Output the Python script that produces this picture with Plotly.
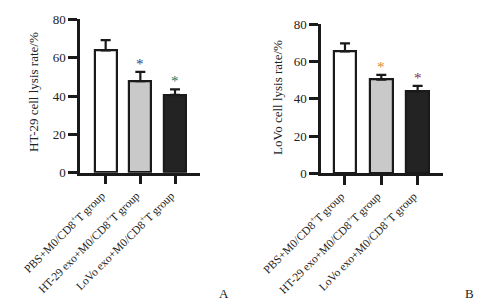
import plotly.graph_objects as go

categories = ["PBS+M0/CD8<sup>+</sup>T group", "HT-29 exo+M0/CD8<sup>+</sup>T group", "LoVo exo+M0/CD8<sup>+</sup>T group"]
ht29_values = [63.8, 47.7, 40.6]
ht29_errors = [5.3, 4.9, 2.9]
lovo_values = [65.5, 50.3, 44.0]
lovo_errors = [4.3, 2.5, 2.9]
ht29_star_colors = [None, "#2b3f8f", "#137a66"]
lovo_star_colors = [None, "#e0892e", "#8a2a3c"]
bar_colors = ["#ffffff", "#c9c9c9", "#232323"]
y_ticks = [0, 20, 40, 60, 80]

FONT = "Liberation Serif"
W, H = 502, 306

def px_x(p):
    return p / W

def px_y(p):
    return 1 - p / H

fig = go.Figure()

xpos = [0, 1, 2]

for axis_idx, vals, errs, stars in [("", ht29_values, ht29_errors, ht29_star_colors),
                                    ("2", lovo_values, lovo_errors, lovo_star_colors)]:
    fig.add_trace(go.Bar(
        x=xpos, y=vals,
        xaxis="x" + axis_idx, yaxis="y" + axis_idx,
        width=0.63,
        marker=dict(color=bar_colors, line=dict(color="#1a1a1a", width=2.2)),
        error_y=dict(type="data", symmetric=False, array=errs, arrayminus=[0, 0, 0],
                     color="#1a1a1a", thickness=2.2, width=5),
        showlegend=False,
        hoverinfo="skip",
    ))
    for i, c in enumerate(stars):
        if c:
            fig.add_annotation(x=xpos[i], y=vals[i] + errs[i], xref="x" + axis_idx, yref="y" + axis_idx,
                               text="*", showarrow=False, yshift=8,
                               font=dict(family=FONT, size=15, color=c))

def axis_common(size):
    return dict(showline=True, linecolor="#1a1a1a", linewidth=2.5, ticks="outside",
                tickcolor="#1a1a1a", tickwidth=2.5, ticklen=9, showgrid=False, zeroline=False,
                automargin=False,
                tickfont=dict(family=FONT, size=size, color="#222222"))

fig.update_layout(
    width=W, height=H,
    margin=dict(l=0, r=0, t=0, b=0),
    paper_bgcolor="white", plot_bgcolor="white",
    bargap=0,
    xaxis=dict(domain=[px_x(80), px_x(200)], range=[-0.74, 2.72], anchor="y",
               tickvals=xpos, ticktext=categories, tickangle=-45, ticklabelshift=-4,
               **axis_common(11.5)),
    yaxis=dict(domain=[px_y(172.7), px_y(19.3)], range=[0, 80], anchor="x",
               tickvals=y_ticks, **axis_common(13)),
    xaxis2=dict(domain=[px_x(321), px_x(442.7)], range=[-0.66, 2.69], anchor="y2",
                tickvals=xpos, ticktext=categories, tickangle=-45, ticklabelshift=-4,
                **axis_common(11.5)),
    yaxis2=dict(domain=[px_y(173.3), px_y(24.3)], range=[0, 80], anchor="x2",
                tickvals=y_ticks, **axis_common(13)),
)

def label(x, y, text, angle=0, size=13):
    fig.add_annotation(x=px_x(x), y=px_y(y), xref="paper", yref="paper", text=text,
                       textangle=angle, showarrow=False, xanchor="center", yanchor="middle",
                       font=dict(family=FONT, size=size, color="#222222"))

label(33, 92, "HT-29 cell lysis rate/%", angle=-90)
label(278, 98, "LoVo cell lysis rate/%", angle=-90)
label(224, 293, "A")
label(469, 293, "B")

fig.write_html("out.html", config={"displayModeBar": False},
               post_script="document.body.style.margin='0';document.body.style.padding='0';")
